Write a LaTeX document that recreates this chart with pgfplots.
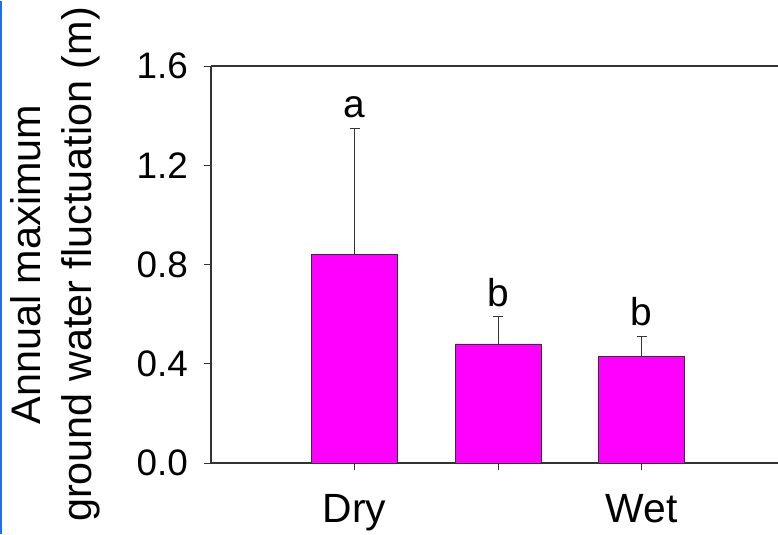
\documentclass[border=0pt]{standalone}
\usepackage{pgfplots}
\pgfplotsset{compat=1.18}
\usepackage{fontspec}
\setmainfont{Liberation Sans}
\definecolor{barmag}{RGB}{255,0,255}
\definecolor{edgeblue}{RGB}{30,110,240}
\begin{document}
\begin{tikzpicture}
\begin{axis}[
  scale only axis, width=567bp, height=397bp,
  xmin=-1, xmax=2.95, ymin=0, ymax=1.6,
  axis x line*=bottom, axis y line*=left,
  axis line style={line width=1.1bp, color=black!80},
  tick align=outside, major tick length=7bp,
  tick style={line width=0.8bp, color=black!80},
  xtick={0,1,2}, xticklabels={Dry,,Wet},
  ytick={0,0.4,0.8,1.2,1.6},
  /pgf/number format/.cd, fixed, fixed zerofill, precision=1, assume math mode=true,
  /pgfplots/.cd,
  yticklabel style={font=\fontsize{37}{44}\selectfont, inner sep=0pt, xshift=-16bp},
  xticklabel style={font=\fontsize{41}{48}\selectfont, inner sep=0pt, yshift=-24bp},
  ylabel={Annual maximum\\ground water fluctuation (m)},
  ylabel style={align=center, font=\fontsize{41.5}{51}\selectfont, inner sep=0pt,
    at={(rel axis cs:-0.1958,0.5)}, anchor=south},
  clip=false,
]
\addplot[ybar, bar width=0.6, fill=barmag, draw=black!80, line width=0.6bp,
  error bars/.cd, y dir=plus, y explicit, error mark=-,
  error bar style={line width=0.7bp, color=black!80},
  error mark options={rotate=90, mark size=5bp, line width=0.7bp, color=black!80}]
  coordinates {(0,0.84) +- (0,0.51) (1,0.48) +- (0,0.11) (2,0.43) +- (0,0.08)};
\draw[line width=1.1bp, color=black!80] (rel axis cs:0,1) -- (rel axis cs:1,1);
\node[anchor=south, font=\fontsize{39}{46}\selectfont, inner sep=0pt, yshift=10bp] at (axis cs:0,1.35) {a};
\node[anchor=south, font=\fontsize{39}{46}\selectfont, inner sep=0pt, yshift=10bp] at (axis cs:1,0.59) {b};
\node[anchor=south, font=\fontsize{39}{46}\selectfont, inner sep=0pt, yshift=10bp] at (axis cs:2,0.51) {b};
\coordinate (sw) at (rel axis cs:0,0);
\coordinate (ne) at (rel axis cs:1,1);
\end{axis}
\pgfresetboundingbox
\path ([xshift=-211bp,yshift=-71bp]sw) rectangle ([yshift=65bp]ne);
\draw[edgeblue, line width=2bp] ([xshift=-210bp,yshift=-71bp]sw) -- ([xshift=-210bp,yshift=65bp]sw |- ne);
\end{tikzpicture}
\end{document}
